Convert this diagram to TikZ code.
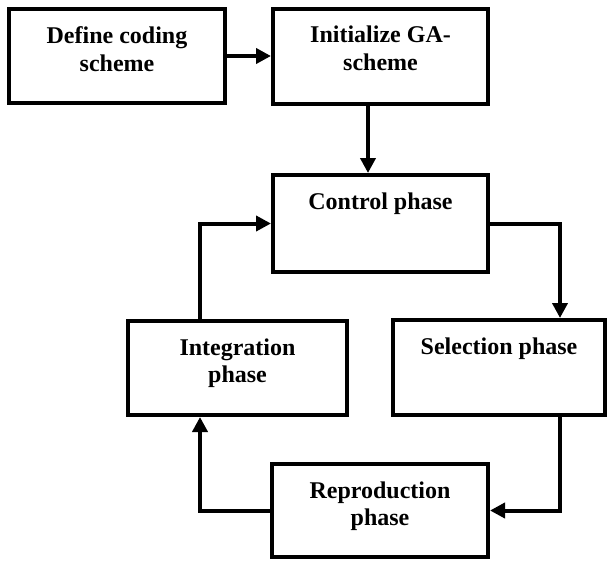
\documentclass[tikz,border=0pt]{standalone}
\usepackage{fontspec}
\setmainfont{Liberation Serif}
\usetikzlibrary{arrows.meta,calc}
\begin{document}
\begin{tikzpicture}[x=1pt,y=-1pt,
  boxst/.style={draw, line width=4pt, inner sep=0pt},
  txt/.style={font=\fontsize{24}{27.5}\selectfont\bfseries, align=center, inner sep=0pt, anchor=north},
  arr/.style={line width=4pt, -{Triangle[length=15pt,width=15pt]}}]
\useasboundingbox (0,0) rectangle (607,562);
\node[boxst, minimum width=216pt, minimum height=94pt] (b1) at (117,56) {};
\node[boxst, minimum width=215pt, minimum height=95pt] (b2) at (380.5,56) {};
\node[boxst, minimum width=215pt, minimum height=97pt] (ctrl) at (380.5,223.5) {};
\node[boxst, minimum width=219pt, minimum height=94pt] (integ) at (237.5,368) {};
\node[boxst, minimum width=212pt, minimum height=95pt] (sel) at (499,367.5) {};
\node[boxst, minimum width=216pt, minimum height=93pt] (repro) at (380,510.5) {};
\node[txt] (t1) at ([yshift=-19.5pt]b1.north) {Define coding\\scheme};
\node[txt] (t2) at ([yshift=-19.5pt]b2.north) {Initialize GA-\\scheme};
\node[txt] (t3) at ([yshift=-19.5pt]ctrl.north) {Control phase};
\node[txt] (t4) at ([yshift=-19.5pt]integ.north) {Integration\\phase};
\node[txt] (t5) at ([yshift=-19.5pt]sel.north) {Selection phase};
\node[txt] (t6) at ([yshift=-19.5pt]repro.north) {Reproduction\\phase};
\coordinate (c1) at (368,0);
\coordinate (c2) at (200,0);
\coordinate (c3) at (560,0);
\draw[arr] (b1.east) -- (b2.west);
\draw[arr] (b2.south -| c1) -- (ctrl.north -| c1);
\draw[arr] (integ.north -| c2) |- (ctrl.west);
\draw[arr] (ctrl.east) -| (sel.north -| c3);
\draw[arr] (sel.south -| c3) |- (repro.east);
\draw[arr] (repro.west) -| (integ.south -| c2);
\end{tikzpicture}
\end{document}
